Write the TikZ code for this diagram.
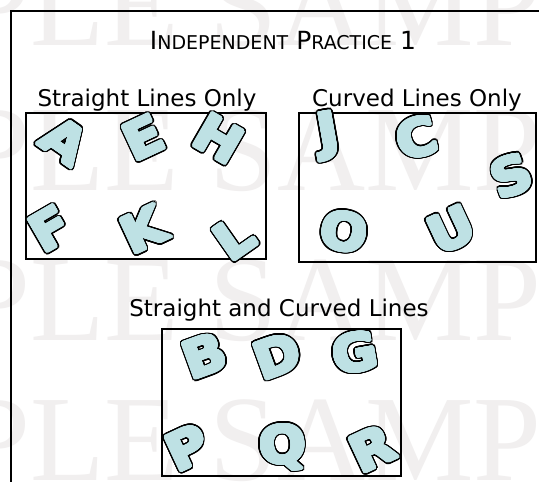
\documentclass[tikz,border=0pt]{standalone}
\usepackage{fontspec}
\usepackage{xcolor}
\usepackage{contour}
\usetikzlibrary{positioning}
\newfontfamily\labelfont{DejaVu Sans}
\newfontfamily\blockfont[FakeStretch=1.08]{DejaVu Sans}
\newfontfamily\markfont{Liberation Serif}
\definecolor{letterfill}{RGB}{190,225,228}
\definecolor{markgray}{RGB}{241,239,239}
\contournumber{36}
\newcommand{\fakesc}[2]{{\fontsize{25}{25}\selectfont #1}{\fontsize{19}{19}\selectfont #2}}
% outlined block letter: black rim, then a fattened light fill
\newcommand{\blockletter}[1]{%
    \makebox[0pt][l]{\contourlength{3.1pt}\contour{black}{#1}}%
    {\contourlength{1.5pt}\contour{letterfill}{#1}}}

\begin{document}
\begin{tikzpicture}[x=1pt, y=-1pt,
    heading/.style={font=\labelfont\fontsize{23}{23}\selectfont, inner sep=0pt, anchor=base},
    letter/.style={font=\blockfont\bfseries\fontsize{51}{51}\selectfont, inner sep=0pt, text=letterfill},
    sortbox/.style={line width=1.8pt},
    watermark/.style={font=\markfont\fontsize{122}{122}\selectfont, text=markgray, inner sep=0pt, anchor=base west}]
    \clip (0,0) rectangle (539,482);
    \fill[white] (0,0) rectangle (539,482);
    % watermark rows
    \node[watermark] (mark1) at (-38,45) {PLE SAMPLE};
    \node[watermark] (mark2) at (-38,190) {PLE SAMPLE};
    \node[watermark] (mark3) at (-38,340) {PLE SAMPLE};
    \node[watermark] (mark4) at (-38,480) {PLE SAMPLE};
    % page frame
    \draw[line width=2pt] (11,495) -- (11,11) -- (550,11);
    % headings
    \node[heading, font=\labelfont\fontsize{25}{25}\selectfont] (title) at (283,49) {\fakesc{I}{NDEPENDENT} \fakesc{P}{RACTICE} 1};
    \node[heading] (straightlbl) at (147,106) {Straight Lines Only};
    \node[heading] (curvedlbl) at (417,106) {Curved Lines Only};
    \node[heading] (mixedlbl) at (279,316) {Straight and Curved Lines};
    % boxes
    \draw[sortbox] (26,113) rectangle (266,259);
    \draw[sortbox] (299,113) rectangle (536,262);
    \draw[sortbox] (162,329) rectangle (401,476);
    % straight lines only
    \node[letter, rotate=-35] (A) at (64,142) {\blockletter{A}};
    \node[letter, rotate=25] (E) at (144,139) {\blockletter{E}};
    \node[letter, rotate=-30] (H) at (218,140) {\blockletter{H}};
    \node[letter, rotate=30] (F) at (51,230) {\blockletter{F}};
    \node[letter, rotate=25] (K) at (144,231) {\blockletter{K}};
    \node[letter, rotate=35] (L) at (235,239) {\blockletter{L}};
    % curved lines only
    \node[letter, rotate=10] (J) at (329,137) {\blockletter{J}};
    \node[letter, rotate=15] (C) at (417,139) {\blockletter{C}};
    \node[letter, rotate=20] (S) at (512,177) {\blockletter{S}};
    \node[letter, rotate=-10] (O) at (344,233) {\blockletter{O}};
    \node[letter, rotate=25] (U) at (452,231) {\blockletter{U}};
    % straight and curved lines
    \node[letter, rotate=20] (B) at (205,357) {\blockletter{B}};
    \node[letter, rotate=20] (D) at (278,357) {\blockletter{D}};
    \node[letter, rotate=10] (G) at (355,354) {\blockletter{G}};
    \node[letter, rotate=25] (P) at (188,449) {\blockletter{P}};
    \node[letter, rotate=5] (Q) at (283,449) {\blockletter{Q}};
    \node[letter, rotate=25] (R) at (373,450) {\blockletter{R}};
\end{tikzpicture}
\end{document}
